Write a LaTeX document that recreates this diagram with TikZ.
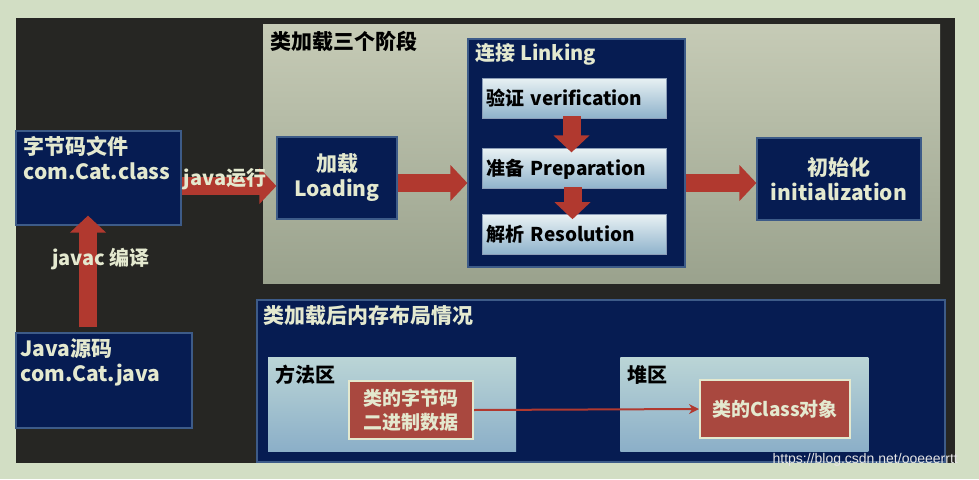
\documentclass[tikz,border=0pt]{standalone}
\usepackage{fontspec}
\setmainfont{Noto Sans CJK SC}
\newfontfamily\urlfont{Liberation Sans}
\usetikzlibrary{positioning}
\usetikzlibrary{arrows.meta}

\definecolor{pagegreen}{HTML}{D2DEC4}
\definecolor{board}{HTML}{262623}
\definecolor{navy}{HTML}{061C52}
\definecolor{navyline}{HTML}{3D5B88}
\definecolor{cream}{HTML}{E4E9CF}
\definecolor{panelTop}{HTML}{C6CBB6}
\definecolor{panelBot}{HTML}{9AA28D}
\definecolor{skyTop}{HTML}{E8F1F3}
\definecolor{skyBot}{HTML}{8EB2CB}
\definecolor{zoneTop}{HTML}{BBD5D6}
\definecolor{zoneBot}{HTML}{8BAFC8}
\definecolor{arrowred}{HTML}{B1392F}
\definecolor{boxred}{HTML}{A9483F}

\begin{document}
\begin{tikzpicture}[x=1pt,y=-1pt,
		big/.style={font=\bfseries\fontsize{21}{25}\selectfont},
		mid/.style={font=\bfseries\fontsize{19}{23}\selectfont},
		navybox/.style={draw=navyline,line width=1.2pt,fill=navy,rectangle,inner sep=0pt,text=cream,align=center,big},
		skybox/.style={draw=navyline!60,line width=.8pt,top color=skyTop,bottom color=skyBot,rectangle,minimum height=40pt,text width=176pt,inner xsep=4pt,inner ysep=0pt,align=left,mid},
		zonebox/.style={top color=zoneTop,bottom color=zoneBot,rectangle,inner sep=0pt,minimum width=248pt,minimum height=94pt},
		redbox/.style={draw=cream,line width=2pt,fill=boxred,rectangle,inner sep=0pt,text=cream,align=center,font=\bfseries\fontsize{19}{24}\selectfont},
		fat/.style={draw=arrowred,line width=18pt,-{Triangle[length=17pt,width=35pt]}},
		title/.style={anchor=north west,inner sep=0pt,big}]

		\useasboundingbox (0,0) rectangle (979,479);
		\fill[pagegreen] (0,0) rectangle (979,479);
		\fill[board] (16,18) rectangle (955,463);

		% top panel: the three stages
		\node[rectangle,top color=panelTop,bottom color=panelBot,minimum width=677pt,minimum height=259pt,inner sep=0pt] at (601.5,153.5) (stages) {};
		\node[title] at ([xshift=7pt,yshift=-7pt]stages.north west) (stagestitle) {类加载三个阶段};

		\node[navybox,minimum width=120pt,minimum height=82pt] at (337,178) (loading) {加载\\Loading};
		\node[navybox,minimum width=217pt,minimum height=228pt] at (576.5,153) (linking) {};
		\node[title,text=cream,font=\bfseries\fontsize{20}{24}\selectfont] at ([xshift=8pt,yshift=-5pt]linking.north west) (linkingtitle) {连接 Linking};
		\node[skybox] at (574.5,98) (verify) {验证 verification};
		\node[skybox,below=30pt of verify] (prepare) {准备 Preparation};
		\node[skybox,below=25pt of prepare] (resolve) {解析 Resolution};
		\node[navybox,minimum width=164pt,minimum height=82pt] at (839,179) (init) {初始化\\initialization};

		% left column
		\node[navybox,minimum width=165pt,minimum height=94pt] at (98.5,178) (bytecode) {};
		\node[title,text=cream,align=left] at ([xshift=8pt,yshift=-6pt]bytecode.north west) (bytecodetext) {字节码文件\\com.Cat.class};
		\node[navybox,minimum width=176pt,minimum height=95pt] at (104,380.5) (javasrc) {};
		\node[title,text=cream,align=left] at ([xshift=5pt,yshift=-6pt]javasrc.north west) (javasrctext) {Java源码\\com.Cat.java};

		% bottom panel: memory layout
		\node[navybox,minimum width=688pt,minimum height=162pt] at (601,381) (memory) {};
		\node[title,text=cream] at ([xshift=7pt,yshift=-6pt]memory.north west) (memorytitle) {类加载后内存布局情况};
		\node[zonebox] at (392,404) (method) {};
		\node[title,font=\bfseries\fontsize{20}{24}\selectfont] at ([xshift=7pt,yshift=-8pt]method.north west) (methodtitle) {方法区};
		\node[zonebox,right=104pt of method] (heap) {};
		\node[title,font=\bfseries\fontsize{20}{24}\selectfont] at ([xshift=7pt,yshift=-8pt]heap.north west) (heaptitle) {堆区};
		\node[redbox,minimum width=124pt,minimum height=58pt] at (411,410) (bindata) {类的字节码\\二进制数据};
		\node[redbox,minimum width=150pt,minimum height=58pt] at (775,409) (classobj) {类的Class对象};

		% arrows
		\draw[fat] ([xshift=-16pt,yshift=5pt]javasrc.north) -- ([xshift=-16pt,yshift=10pt]javasrc.north |- bytecode.south);
		\draw[fat] ([yshift=-8pt]bytecode.east) -- ([yshift=-8pt]loading.west);
		\draw[fat] ([yshift=-5pt]loading.east) -- ([yshift=-5pt]loading.east -| linking.west);
		\draw[fat] ([yshift=-4pt]init.west -| linking.east) -- ([yshift=-4pt]init.west);
		\draw[fat] ([xshift=-3pt,yshift=2pt]verify.south) -- ([xshift=-3pt,yshift=-4pt]prepare.north);
		\draw[fat] ([xshift=-2pt,yshift=2pt]prepare.south) -- ([xshift=-2pt,yshift=-5pt]resolve.north);
		\draw[arrowred,line width=2pt,-{Stealth[length=10pt,width=10pt]}] (bindata.east) -- (classobj.west);

		\node[text=cream,font=\bfseries\fontsize{20}{24}\selectfont] at (101,259) (javac) {javac 编译};
		\node[text=cream,font=\bfseries\fontsize{20}{24}\selectfont] at (225,179) (javarun) {java运行};

		\node[anchor=east,inner sep=0pt,text=white!80!gray,font=\urlfont\fontsize{14}{14}\selectfont] at (958,460) (url) {https://blog.csdn.net/ooeeerrtt};
	\end{tikzpicture}
\end{document}
